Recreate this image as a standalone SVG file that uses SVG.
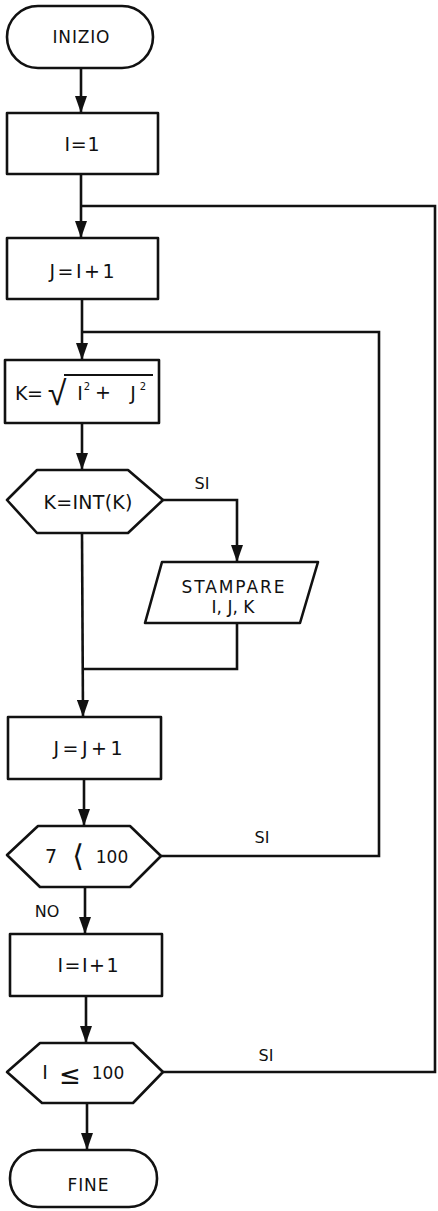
<svg xmlns="http://www.w3.org/2000/svg" width="438" height="1211" viewBox="0 0 438 1211">
<style>
.s{fill:#fff;stroke:#111;stroke-width:2.6;stroke-linejoin:round}
.c{fill:none;stroke:#111;stroke-width:2.6}
.t{font-family:"DejaVu Sans","Liberation Sans",sans-serif;font-size:17px;fill:#111;text-anchor:middle}
.l{font-family:"DejaVu Sans","Liberation Sans",sans-serif;font-size:16px;fill:#111;text-anchor:middle}
.m{font-family:"DejaVu Sans","Liberation Sans",sans-serif;font-size:19px;fill:#111;text-anchor:middle}
</style>
<defs>
<marker id="ad" markerUnits="userSpaceOnUse" markerWidth="17" markerHeight="12" refX="17" refY="6" orient="auto" viewBox="0 0 17 12">
<path d="M0,0 L17,6 L0,12 Z" fill="#111"/>
</marker>
</defs>
<rect width="438" height="1211" fill="#fff"/>
<g id="connectors">
<line class="c" x1="81" y1="68" x2="81" y2="113" marker-end="url(#ad)"/>
<line class="c" x1="81" y1="174" x2="81" y2="238" marker-end="url(#ad)"/>
<line class="c" x1="82" y1="299" x2="82" y2="360" marker-end="url(#ad)"/>
<line class="c" x1="82" y1="423" x2="82" y2="470" marker-end="url(#ad)"/>
<line class="c" x1="82" y1="533" x2="83" y2="717" marker-end="url(#ad)"/>
<line class="c" x1="84" y1="779" x2="84" y2="826" marker-end="url(#ad)"/>
<line class="c" x1="85" y1="887" x2="85" y2="934" marker-end="url(#ad)"/>
<line class="c" x1="86" y1="996" x2="86" y2="1043" marker-end="url(#ad)"/>
<line class="c" x1="87" y1="1103" x2="87" y2="1150" marker-end="url(#ad)"/>
<polyline class="c" points="163,500 237,500 237,562" marker-end="url(#ad)"/>
<polyline class="c" points="237,623 237,669 82,669"/>
<polyline class="c" points="161,856 379,856 379,332 82,332"/>
<polyline class="c" points="163,1072 435,1072 435,206 81,206"/>
<text class="l" x="202" y="489">SI</text>
<text class="l" x="262" y="843">SI</text>
<text class="l" x="266" y="1061">SI</text>
<text class="l" x="47" y="917">NO</text>
</g>
<g id="inizio">
<rect class="s" x="7" y="6" width="146" height="62" rx="31"/>
<text class="t" x="81" y="43" textLength="57" lengthAdjust="spacing">INIZIO</text>
</g>
<g id="i1">
<rect class="s" x="7" y="113" width="151" height="61"/>
<text class="m" x="82" y="151" textLength="35" lengthAdjust="spacing">I=1</text>
</g>
<g id="ji1">
<rect class="s" x="7" y="238" width="151" height="61"/>
<text class="m" x="82" y="278" textLength="65" lengthAdjust="spacing">J=I+1</text>
</g>
<g id="kform">
<rect class="s" x="5" y="360" width="154" height="63"/>
<text class="m" x="29" y="400" textLength="28" lengthAdjust="spacing">K=</text>
<text class="m" x="57" y="405" style="font-size:34px;font-weight:300">√</text>
<line class="c" x1="64" y1="375" x2="153" y2="375" style="stroke-width:1.8"/>
<text class="m" x="80" y="400">I</text>
<text class="m" x="87" y="390" style="font-size:10px">2</text>
<text class="m" x="103" y="399">+</text>
<text class="m" x="133" y="400">J</text>
<text class="m" x="143" y="390" style="font-size:10px">2</text>
</g>
<g id="kint">
<polygon class="s" points="7,500 37,470 128,470 163,500 128,533 37,533"/>
<text class="m" x="88" y="509" textLength="89" lengthAdjust="spacing">K=INT(K)</text>
</g>
<g id="stampare">
<polygon class="s" points="162,562 318,562 300,623 145,623"/>
<text class="t" x="233" y="593" textLength="103" lengthAdjust="spacing">STAMPARE</text>
<text class="t" x="233" y="613">I, J, K</text>
</g>
<g id="jj1">
<rect class="s" x="8" y="717" width="153" height="62"/>
<text class="m" x="88" y="755" textLength="69" lengthAdjust="spacing">J=J+1</text>
</g>
<g id="d7">
<polygon class="s" points="7,855 38,826 130,826 161,856 130,887 40,887"/>
<text class="m" x="51" y="863">7</text>
<text class="m" x="78" y="866" style="font-size:30px">⟨</text>
<text class="m" x="112" y="863" style="font-size:17px">100</text>
</g>
<g id="ii1">
<rect class="s" x="10" y="934" width="152" height="62"/>
<text class="m" x="88" y="972" textLength="61" lengthAdjust="spacing">I=I+1</text>
</g>
<g id="d100">
<polygon class="s" points="7,1072 40,1043 133,1043 163,1072 133,1103 42,1103"/>
<text class="m" x="45" y="1079">I</text>
<text class="m" x="70" y="1084" style="font-size:26px">≤</text>
<text class="m" x="108" y="1079" style="font-size:17px">100</text>
</g>
<g id="fine">
<rect class="s" x="10" y="1150" width="147" height="57" rx="28"/>
<text class="t" x="88" y="1191" textLength="41" lengthAdjust="spacing">FINE</text>
</g>
</svg>
